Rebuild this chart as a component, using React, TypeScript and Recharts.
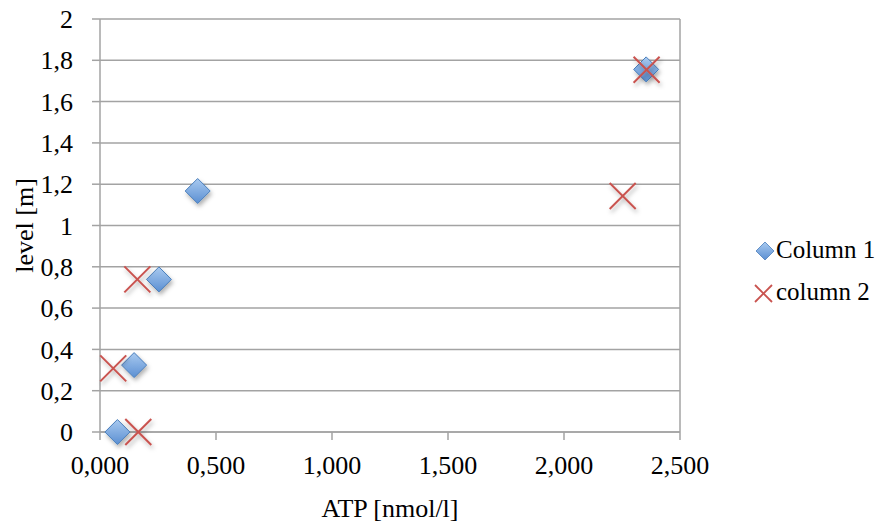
import React from 'react';
import {
  ScatterChart,
  Scatter,
  XAxis,
  YAxis,
  CartesianGrid,
  ReferenceLine,
} from 'recharts';

// values
const col1X = [0.075, 0.147, 0.254, 0.421, 2.354];
const col1Y = [0, 0.324, 0.739, 1.167, 1.756];
const col2X = [0.165, 0.057, 0.161, 2.253, 2.356];
const col2Y = [0, 0.308, 0.739, 1.143, 1.754];

const xTicks = [0, 0.5, 1, 1.5, 2, 2.5];
const yTicks = [0, 0.2, 0.4, 0.6, 0.8, 1, 1.2, 1.4, 1.6, 1.8, 2];

const seriesNames = ['Column 1', 'column 2'];

const FONT = '"Liberation Serif", "Times New Roman", serif';
const GRID = '#a3a3a3';
const RED = '#c9534f';

const col1 = col1X.map((x, i) => ({ x, y: col1Y[i] }));
const col2 = col2X.map((x, i) => ({ x, y: col2Y[i] }));

const fmtX = (v: number) => v.toFixed(3).replace('.', ',');
const fmtY = (v: number) => String(Math.round(v * 10) / 10).replace('.', ',');

const XTick = (props: any) => (
  <text x={props.x} y={props.y} dy="0.71em" textAnchor="middle" fontFamily={FONT} fontSize={26} fill="#000">
    {fmtX(props.payload.value)}
  </text>
);

const YTick = (props: any) => (
  <text x={props.x} y={props.y} dy="0.35em" textAnchor="end" fontFamily={FONT} fontSize={26} fill="#000">
    {fmtY(props.payload.value)}
  </text>
);

const Diamond = (props: any) => {
  const { cx, cy } = props;
  const r = 12.5;
  return (
    <polygon
      points={`${cx},${cy - r} ${cx + r},${cy} ${cx},${cy + r} ${cx - r},${cy}`}
      fill="url(#diamondFill)"
      stroke="#4a7ebb"
      strokeWidth={1}
      filter="url(#markShadow)"
    />
  );
};

const Cross = (props: any) => {
  const { cx, cy } = props;
  const r = 13;
  return (
    <g filter="url(#markShadow)">
      <line x1={cx - r} y1={cy - r} x2={cx + r} y2={cy + r} stroke={RED} strokeWidth={2} />
      <line x1={cx - r} y1={cy + r} x2={cx + r} y2={cy - r} stroke={RED} strokeWidth={2} />
    </g>
  );
};

const LegendBox = () => (
  <svg width={883} height={524} style={{ position: 'absolute', left: 0, top: 0, pointerEvents: 'none' }}>
    <defs>
      <linearGradient id="legendFill" x1="0" y1="0" x2="0" y2="1">
        <stop offset="0%" stopColor="#a9caf0" />
        <stop offset="100%" stopColor="#5b8fd2" />
      </linearGradient>
    </defs>
    <polygon points="765,242 774,251 765,260 756,251" fill="url(#legendFill)" stroke="#4a7ebb" strokeWidth={0.8} />
    <text x={776} y={258} fontFamily={FONT} fontSize={25} fill="#000">{seriesNames[0]}</text>
    <line x1={755} y1={285} x2={772} y2={302} stroke={RED} strokeWidth={1.8} />
    <line x1={755} y1={302} x2={772} y2={285} stroke={RED} strokeWidth={1.8} />
    <text x={776} y={300} fontFamily={FONT} fontSize={25} fill="#000">{seriesNames[1]}</text>
  </svg>
);

export default function App() {
  return (
    <div style={{ position: 'absolute', left: 0, top: 0, width: 883, height: 524, background: '#fff' }}>
      <ScatterChart width={883} height={524} margin={{ top: 19, right: 203, bottom: 0, left: 0 }}>
        <defs>
          <linearGradient id="diamondFill" x1="0" y1="0" x2="0" y2="1">
            <stop offset="0%" stopColor="#a9caf0" />
            <stop offset="100%" stopColor="#5b8fd2" />
          </linearGradient>
          <filter id="markShadow" x="-50%" y="-50%" width="200%" height="200%">
            <feDropShadow dx={1.5} dy={3} stdDeviation={2} floodColor="#000" floodOpacity={0.3} />
          </filter>
        </defs>
        <CartesianGrid vertical={false} stroke={GRID} strokeWidth={1.5} />
        <ReferenceLine x={2.5} stroke={GRID} strokeWidth={1.5} />
        <XAxis
          type="number"
          dataKey="x"
          domain={[0, 2.5]}
          ticks={xTicks}
          height={92}
          stroke={GRID}
          strokeWidth={1.5}
          tickSize={8}
          tickMargin={16}
          tick={<XTick />}
          label={{
            content: (p: any) => {
              const vb = p.viewBox;
              return (
                <text x={vb.x + vb.width / 2} y={vb.y + 85} textAnchor="middle" fontFamily={FONT} fontSize={26} fill="#000">
                  ATP [nmol/l]
                </text>
              );
            },
          }}
        />
        <YAxis
          type="number"
          dataKey="y"
          domain={[0, 2]}
          ticks={yTicks}
          width={100}
          stroke={GRID}
          strokeWidth={1.5}
          tickSize={8}
          tickMargin={19}
          tick={<YTick />}
          label={{
            content: (p: any) => {
              const vb = p.viewBox;
              const x = vb.x + 33;
              const y = vb.y + vb.height / 2;
              return (
                <text x={x} y={y} transform={`rotate(-90 ${x} ${y})`} textAnchor="middle" fontFamily={FONT} fontSize={26} fill="#000">
                  level [m]
                </text>
              );
            },
          }}
        />
        <Scatter name={seriesNames[0]} data={col1} shape={Diamond} isAnimationActive={false} />
        <Scatter name={seriesNames[1]} data={col2} shape={Cross} isAnimationActive={false} />
      </ScatterChart>
      <LegendBox />
    </div>
  );
}
